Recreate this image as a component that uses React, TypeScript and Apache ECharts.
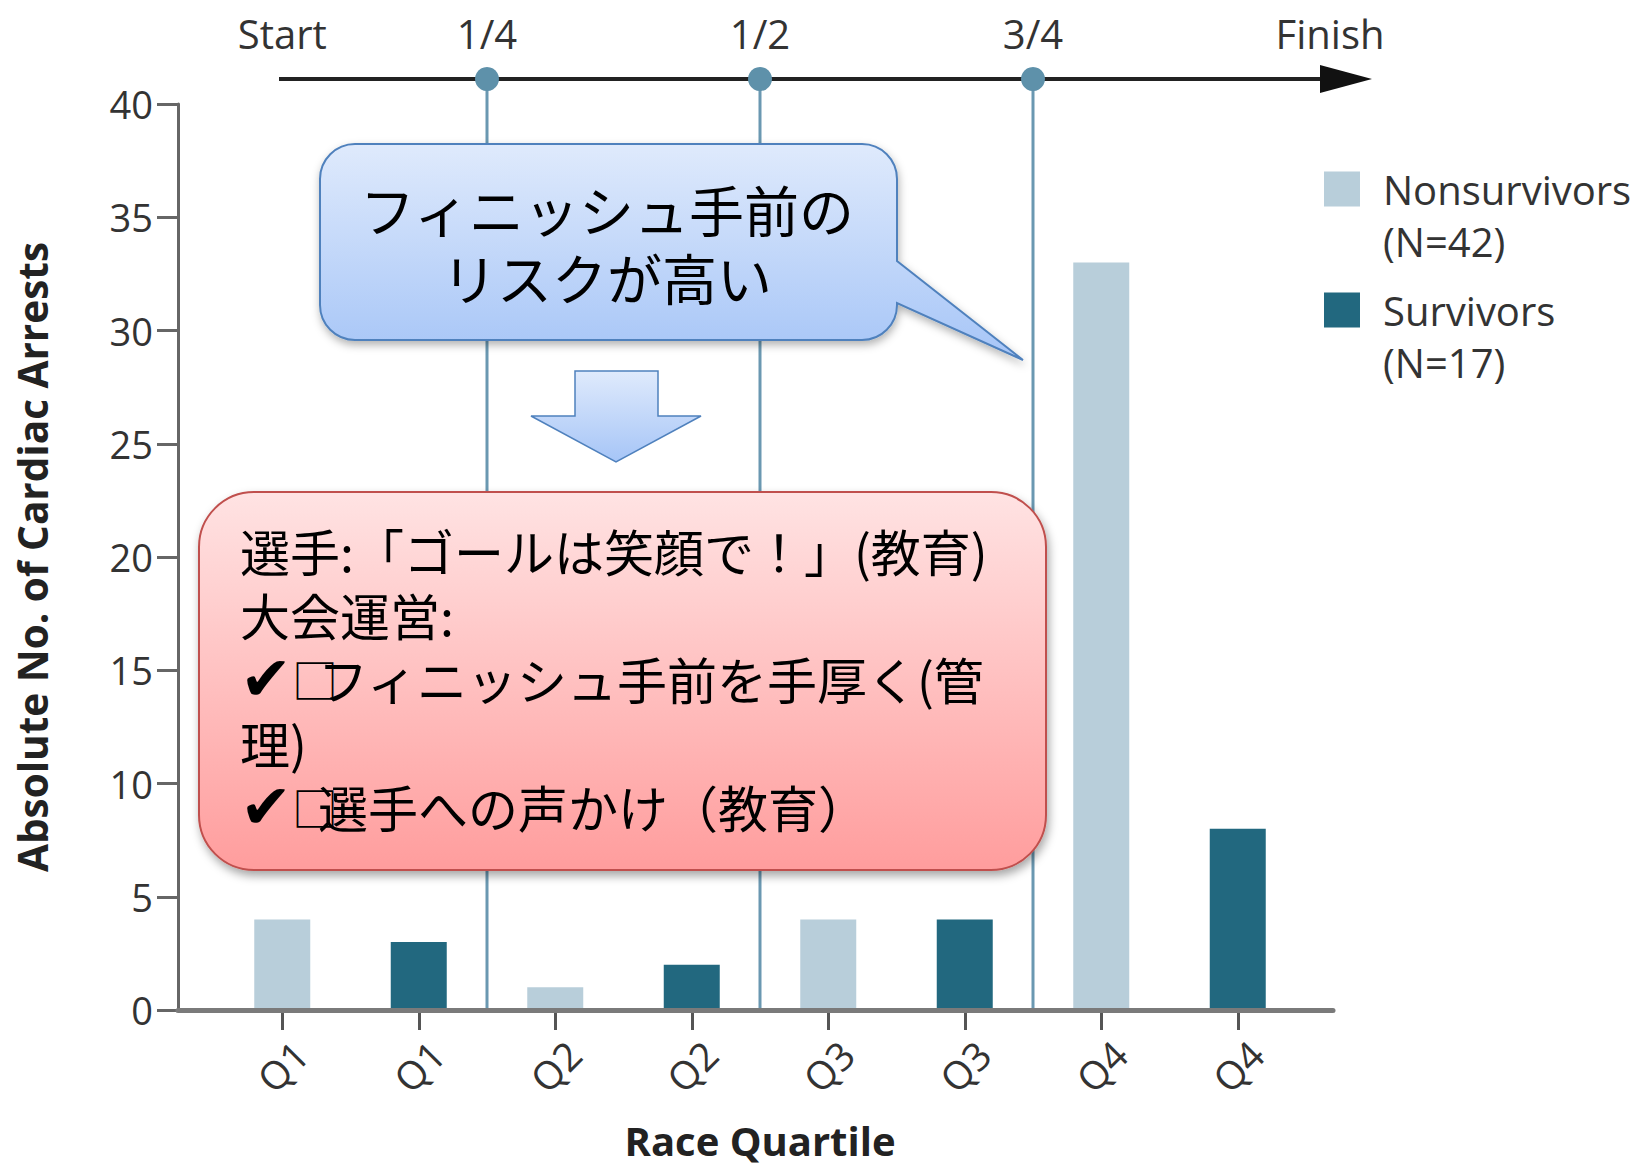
import React, { useEffect, useRef } from "react";
import * as echarts from "echarts";

// ---- data ----
const categories = ["Q1", "Q1", "Q2", "Q2", "Q3", "Q3", "Q4", "Q4"];
const nonsurvivors = [4, null, 1, null, 4, null, 33, null];
const survivors = [null, 3, null, 2, null, 4, null, 8];
const seriesNames = ["Nonsurvivors", "Survivors"];
const yMin = 0;
const yMax = 40;
const yStep = 5;
const timelineLabels = ["Start", "1/4", "1/2", "3/4", "Finish"];
const bubbleLines = ["フィニッシュ手前の", "リスクが高い"];
const noteLines = [
  "選手:「ゴールは笑顔で！」(教育)",
  "大会運営:",
  "{chk|✔}{box|□}フィニッシュ手前を手厚く(管",
  "理)",
  "{chk|✔}{box|□}選手への声かけ（教育）",
];

const LATIN = '"Open Sans", "Noto Sans", sans-serif';
const CJK = '"Noto Sans CJK JP", "Noto Sans", sans-serif';

const total = (arr: (number | null)[]) => arr.reduce((s: number, v) => s + (v ?? 0), 0);
const counts: Record<string, number> = {
  Nonsurvivors: total(nonsurvivors),
  Survivors: total(survivors),
};

// speech bubble outline (rounded box with a pointer on the right)
echarts.graphic.registerShape(
  "bubble",
  echarts.graphic.extendPath(
    "M35,0 H542 A35,35 0 0 1 577,35 V117 L703,216 L577,159 V161 A35,35 0 0 1 542,196 H35 A35,35 0 0 1 0,161 V35 A35,35 0 0 1 35,0 Z",
    {}
  )
);

const blueFill = {
  type: "linear",
  x: 0,
  y: 0,
  x2: 0,
  y2: 1,
  colorStops: [
    { offset: 0, color: "#dfeafc" },
    { offset: 1, color: "#a6c5f7" },
  ],
};
const redFill = {
  type: "linear",
  x: 0,
  y: 0,
  x2: 0,
  y2: 1,
  colorStops: [
    { offset: 0, color: "#ffe3e3" },
    { offset: 1, color: "#ff9d9d" },
  ],
};

// legend entry: the name sits beside the swatch, the count on the line below
function legendFor(name: string, top: number) {
  return {
    data: [name],
    left: 1324,
    top,
    orient: "vertical",
    padding: 0,
    itemWidth: 36,
    itemHeight: 35,
    icon: "rect",
    selectedMode: false,
    formatter: (n: string) => `\n${n}\n(N=${counts[n]})`,
    textStyle: {
      fontFamily: LATIN,
      fontSize: 40,
      lineHeight: 52,
      color: "#333",
      padding: [0, 0, 0, 18],
    },
  };
}

export default function App() {
  const ref = useRef<HTMLDivElement>(null);

  useEffect(() => {
    if (!ref.current) return;
    const chart = echarts.init(ref.current, null, { renderer: "svg" });

    chart.setOption({
      animation: false,
      backgroundColor: "#ffffff",
      grid: [
        { left: 214, right: 329, top: 104, bottom: 156 },
        { left: 178, right: 302, top: 104, bottom: 156 },
      ],
      legend: [legendFor(seriesNames[0], 111), legendFor(seriesNames[1], 232)],
      xAxis: [
        {
          type: "category",
          gridIndex: 0,
          data: categories,
          boundaryGap: true,
          axisLine: { show: false },
          axisTick: {
            show: true,
            alignWithLabel: true,
            length: 20,
            lineStyle: { color: "#555", width: 3 },
          },
          axisLabel: {
            rotate: 45,
            align: "center",
            verticalAlign: "middle",
            margin: 56,
            fontFamily: LATIN,
            fontSize: 39,
            color: "#333",
            interval: 0,
          },
          name: "Race Quartile",
          nameLocation: "middle",
          nameGap: 110,
          nameTextStyle: {
            fontFamily: LATIN,
            fontSize: 40,
            fontWeight: "bold",
            color: "#222",
          },
          splitLine: { show: false },
        },
        {
          type: "value",
          gridIndex: 1,
          min: 0,
          max: 1,
          z: 3,
          axisLine: { show: true, lineStyle: { color: "#7a7a7a", width: 5 } },
          axisTick: { show: false },
          axisLabel: { show: false },
          splitLine: { show: false },
        },
      ],
      yAxis: [
        {
          type: "value",
          gridIndex: 0,
          min: yMin,
          max: yMax,
          interval: yStep,
          show: false,
        },
        {
          type: "value",
          gridIndex: 1,
          min: yMin,
          max: yMax,
          interval: yStep,
          axisLine: { show: true, lineStyle: { color: "#666", width: 3 } },
          axisTick: { show: true, length: 21, lineStyle: { color: "#666", width: 3 } },
          axisLabel: { fontFamily: LATIN, fontSize: 38, color: "#333", margin: 25 },
          splitLine: { show: false },
          name: "Absolute No. of Cardiac Arrests",
          nameLocation: "middle",
          nameGap: 125,
          nameTextStyle: {
            fontFamily: LATIN,
            fontSize: 40.5,
            fontWeight: "bold",
            color: "#222",
          },
        },
      ],
      series: [
        {
          type: "bar",
          name: seriesNames[0],
          xAxisIndex: 0,
          yAxisIndex: 0,
          data: nonsurvivors,
          barWidth: 56,
          barGap: "-100%",
          itemStyle: { color: "#b8ceda" },
        },
        {
          type: "bar",
          name: seriesNames[1],
          xAxisIndex: 0,
          yAxisIndex: 0,
          data: survivors,
          barWidth: 56,
          barGap: "-100%",
          itemStyle: { color: "#22687f" },
        },
      ],
    });

    // race timeline and quarter markers, positioned from the category axis
    const px = (i: number) => chart.convertToPixel({ xAxisIndex: 0 }, i) as number;
    const y0 = chart.convertToPixel({ yAxisIndex: 0 }, 0) as number;
    const quarterX = [1, 3, 5].map((i) => (px(i) + px(i + 1)) / 2);
    const lineY = 79;
    const labelY = 33;
    const labelX = [px(0), ...quarterX, 1330];

    const graphic: any[] = [];
    quarterX.forEach((x) => {
      graphic.push({
        type: "line",
        z: 1,
        shape: { x1: x, y1: lineY, x2: x, y2: y0 },
        style: { stroke: "#6a98b1", lineWidth: 3 },
      });
    });
    graphic.push({
      type: "line",
      z: 2,
      shape: { x1: 279, y1: lineY, x2: 1325, y2: lineY },
      style: { stroke: "#222", lineWidth: 4 },
    });
    graphic.push({
      type: "polygon",
      z: 2,
      shape: { points: [[1320, lineY - 14], [1372, lineY], [1320, lineY + 14]] },
      style: { fill: "#111" },
    });
    quarterX.forEach((x) => {
      graphic.push({
        type: "circle",
        z: 3,
        shape: { cx: x, cy: lineY, r: 12 },
        style: { fill: "#5e91aa" },
      });
    });
    timelineLabels.forEach((t, i) => {
      graphic.push({
        type: "text",
        z: 3,
        style: {
          text: t,
          x: labelX[i],
          y: labelY,
          align: "center",
          verticalAlign: "middle",
          fontFamily: LATIN,
          fontSize: 40,
          fill: "#333",
        },
      });
    });

    // callouts
    graphic.push({
      type: "bubble",
      z: 10,
      x: 320,
      y: 144,
      style: {
        fill: blueFill,
        stroke: "#4f81bd",
        lineWidth: 2,
        shadowBlur: 8,
        shadowOffsetY: 4,
        shadowOffsetX: 1,
        shadowColor: "rgba(0,0,0,0.3)",
      },
    });
    bubbleLines.forEach((line, i) => {
      graphic.push({
        type: "text",
        z: 11,
        style: {
          text: line,
          x: 607,
          y: 208 + i * 68,
          align: "center",
          verticalAlign: "middle",
          fontFamily: CJK,
          fontSize: 55,
          fill: "#000",
        },
      });
    });
    graphic.push({
      type: "polygon",
      z: 10,
      shape: {
        points: [
          [575, 371],
          [658, 371],
          [658, 416],
          [701, 416],
          [616, 462],
          [531, 416],
          [575, 416],
        ],
      },
      style: { fill: blueFill, stroke: "#4f81bd", lineWidth: 1.5 },
    });
    graphic.push({
      type: "rect",
      z: 10,
      shape: { x: 199, y: 492, width: 847, height: 378, r: 55 },
      style: {
        fill: redFill,
        stroke: "#c0504d",
        lineWidth: 2,
        shadowBlur: 10,
        shadowOffsetY: 5,
        shadowOffsetX: 2,
        shadowColor: "rgba(0,0,0,0.35)",
      },
    });
    graphic.push({
      type: "text",
      z: 11,
      style: {
        text: noteLines.join("\n"),
        x: 240,
        y: 518,
        align: "left",
        verticalAlign: "top",
        fontFamily: CJK,
        fontSize: 50,
        lineHeight: 64,
        fill: "#000",
        rich: {
          chk: {
            fontFamily: '"DejaVu Sans", sans-serif',
            fontSize: 62,
            lineHeight: 64,
            fill: "#000",
          },
          box: {
            fontFamily: CJK,
            fontSize: 46,
            lineHeight: 64,
            width: 26,
            fill: "#000",
          },
        },
      },
    });

    chart.setOption({ graphic });

    return () => chart.dispose();
  }, []);

  return (
    <div
      ref={ref}
      style={{ position: "absolute", left: 0, top: 0, width: 1635, height: 1166 }}
    />
  );
}
